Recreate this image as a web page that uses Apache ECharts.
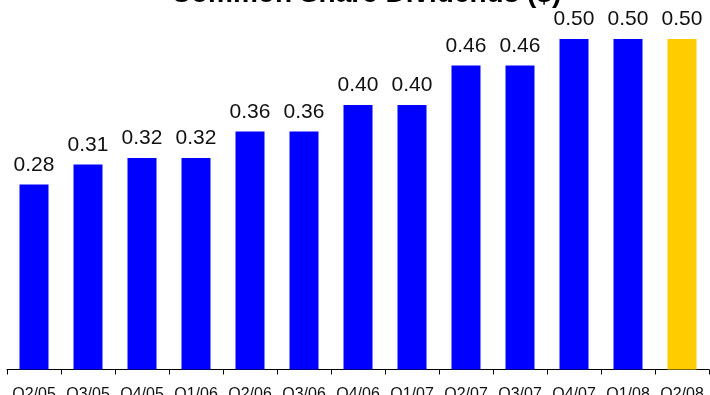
<!DOCTYPE html>
<html>
<head>
<meta charset="utf-8">
<script src="https://cdn.jsdelivr.net/npm/echarts@6/dist/echarts.min.js"></script>
<style>
  html, body { margin: 0; padding: 0; background: #fff; }
  #chart { width: 710px; height: 395px; }
</style>
</head>
<body>
<div id="chart"></div>
<script>
// Quarterly common share dividends, in dollars
const quarters = ['Q2/05', 'Q3/05', 'Q4/05', 'Q1/06', 'Q2/06', 'Q3/06', 'Q4/06',
                  'Q1/07', 'Q2/07', 'Q3/07', 'Q4/07', 'Q1/08', 'Q2/08'];
const dividends = [0.28, 0.31, 0.32, 0.32, 0.36, 0.36, 0.40, 0.40, 0.46, 0.46, 0.50, 0.50, 0.50];
const latestQuarter = 'Q2/08';

const BLUE = '#0000FF';
const GOLD = '#FFCC00';

const chart = echarts.init(document.getElementById('chart'), null, { renderer: 'canvas' });

chart.setOption({
  animation: false,
  backgroundColor: '#ffffff',
  title: {
    text: 'Common Share Dividends ($)',
    left: 361,
    textAlign: 'center',
    top: -25,
    textStyle: {
      fontFamily: 'Liberation Sans, Arial, sans-serif',
      fontSize: 28,
      fontWeight: 'bold',
      color: '#000'
    }
  },
  grid: {
    left: 7, right: 1, top: 39, bottom: 25.5,
    containLabel: false,
    outerBoundsMode: 'none'
  },
  xAxis: {
    type: 'category',
    data: quarters,
    boundaryGap: true,
    axisLine: { lineStyle: { color: '#000', width: 1 } },
    axisTick: { show: true, length: 5, alignWithLabel: false, lineStyle: { color: '#000' } },
    axisLabel: {
      interval: 0,
      margin: 17,
      hideOverlap: false,
      fontFamily: 'Liberation Sans, Arial, sans-serif',
      fontSize: 16,
      color: '#111'
    }
  },
  yAxis: {
    type: 'value',
    min: 0,
    max: 0.5,
    show: false,
    splitLine: { show: false }
  },
  series: [{
    type: 'bar',
    barWidth: 29,
    data: dividends.map((v, i) => ({
      value: v,
      itemStyle: { color: quarters[i] === latestQuarter ? GOLD : BLUE }
    })),
    label: {
      show: true,
      position: 'top',
      distance: 9,
      formatter: p => p.value.toFixed(2),
      fontFamily: 'Liberation Sans, Arial, sans-serif',
      fontSize: 21,
      color: '#111'
    }
  }]
});
</script>
</body>
</html>
